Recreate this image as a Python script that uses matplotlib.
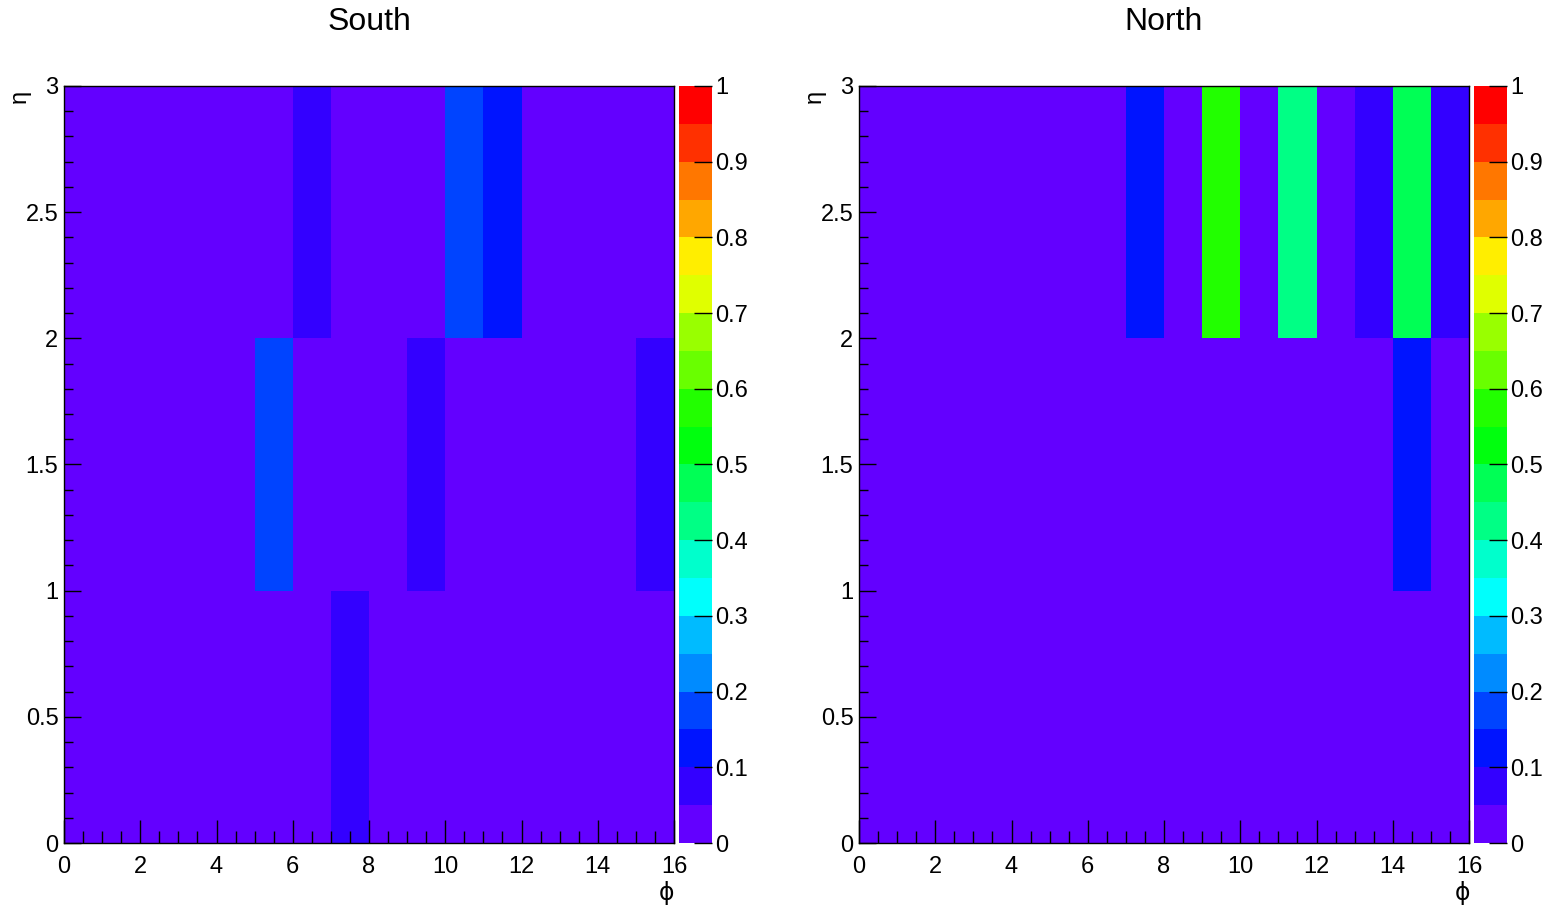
import colorsys
import numpy as np
import matplotlib
matplotlib.use("Agg")
import matplotlib.pyplot as plt
from matplotlib.colors import ListedColormap, BoundaryNorm

plt.rcParams['font.family'] = ['Liberation Sans', 'DejaVu Sans']

# bin edges
phi_edges = np.arange(0, 17, 1)
eta_edges = np.array([0, 1, 2, 3])

# fraction per (eta row, phi bin)
south_eta0 = [0, 0, 0, 0, 0, 0, 0, 0.07, 0, 0, 0, 0, 0, 0, 0, 0]
south_eta1 = [0, 0, 0, 0, 0, 0.17, 0, 0, 0, 0.07, 0, 0, 0, 0, 0, 0.07]
south_eta2 = [0, 0, 0, 0, 0, 0, 0.07, 0, 0, 0, 0.17, 0.12, 0, 0, 0, 0]

north_eta0 = [0] * 16
north_eta1 = [0, 0, 0, 0, 0, 0, 0, 0, 0, 0, 0, 0, 0, 0, 0.12, 0]
north_eta2 = [0, 0, 0, 0, 0, 0, 0, 0.12, 0, 0.57, 0, 0.42, 0, 0.07, 0.47, 0.07]

panels = [("South", [south_eta0, south_eta1, south_eta2]),
          ("North", [north_eta0, north_eta1, north_eta2])]

# ROOT "pretty" palette, 20 contour levels
ncont = 20
cols = []
for k in range(ncont):
    idx = int((k + 0.99) * 50 / ncont)
    hue = 280 - (idx + 1) * 280 / 50.
    cols.append(colorsys.hls_to_rgb(hue / 360., 0.5, 1.0))
cmap = ListedColormap(cols)
levels = np.linspace(0, 1, ncont + 1)
norm = BoundaryNorm(levels, ncont)

W, H = 1558, 905
fig = plt.figure(figsize=(W / 100, H / 100), dpi=100)

frames = [(64, 674, 679, 712), (859, 1469, 1474, 1507)]
top, bot = 86, 843
fs = 17

for (title, rows), (x0, x1, c0, c1) in zip(panels, frames):
    ax = fig.add_axes([x0 / W, (H - bot) / H, (x1 - x0) / W, (bot - top) / H])
    cax = fig.add_axes([c0 / W, (H - bot) / H, (c1 - c0) / W, (bot - top) / H])
    z = np.array(rows)
    mesh = ax.pcolormesh(phi_edges, eta_edges, z, cmap=cmap, norm=norm)
    ax.set_xlim(0, 16)
    ax.set_ylim(0, 3)
    ax.set_xticks(np.arange(0, 17, 2))
    ax.set_xticks(np.arange(0, 16.01, 0.5), minor=True)
    ax.set_yticks(np.arange(0, 3.01, 0.5))
    ax.set_yticks(np.arange(0, 3.001, 0.1), minor=True)
    ax.set_yticklabels(['0', '0.5', '1', '1.5', '2', '2.5', '3'])
    ax.tick_params(axis='x', which='major', direction='in', length=16.5, width=1,
                   labelsize=fs, pad=9, top=False)
    ax.tick_params(axis='x', which='minor', direction='in', length=8.3, width=1, top=False)
    ax.tick_params(axis='y', which='major', direction='in', length=12.5, width=1,
                   labelsize=fs, pad=4, right=False)
    ax.tick_params(axis='y', which='minor', direction='in', length=6.5, width=1, right=False)
    for s in ax.spines.values():
        s.set_linewidth(1)
    ax.set_zorder(2)

    fig.text((x0 + x1) / 2 / W, 1 - 22 / H, title, ha='center', va='center', fontsize=23)
    fig.text((x0 - 44) / W, 1 - 96 / H, 'η', ha='center', va='center', fontsize=fs,
             rotation=90)
    fig.text((x1 - 7) / W, 1 - 893 / H, 'ϕ', ha='center', va='center', fontsize=fs,
             family=['DejaVu Sans'])

    cb = fig.colorbar(mesh, cax=cax, ticks=np.linspace(0, 1, 11))
    cb.outline.set_visible(False)
    cax.minorticks_off()
    cax.yaxis.set_ticks_position('right')
    cax.tick_params(direction='in', length=13, width=1, labelsize=fs, pad=2)
    cax.set_yticklabels(['0', '0.1', '0.2', '0.3', '0.4', '0.5', '0.6', '0.7', '0.8', '0.9', '1'])

fig.savefig("out.png", dpi=100)
